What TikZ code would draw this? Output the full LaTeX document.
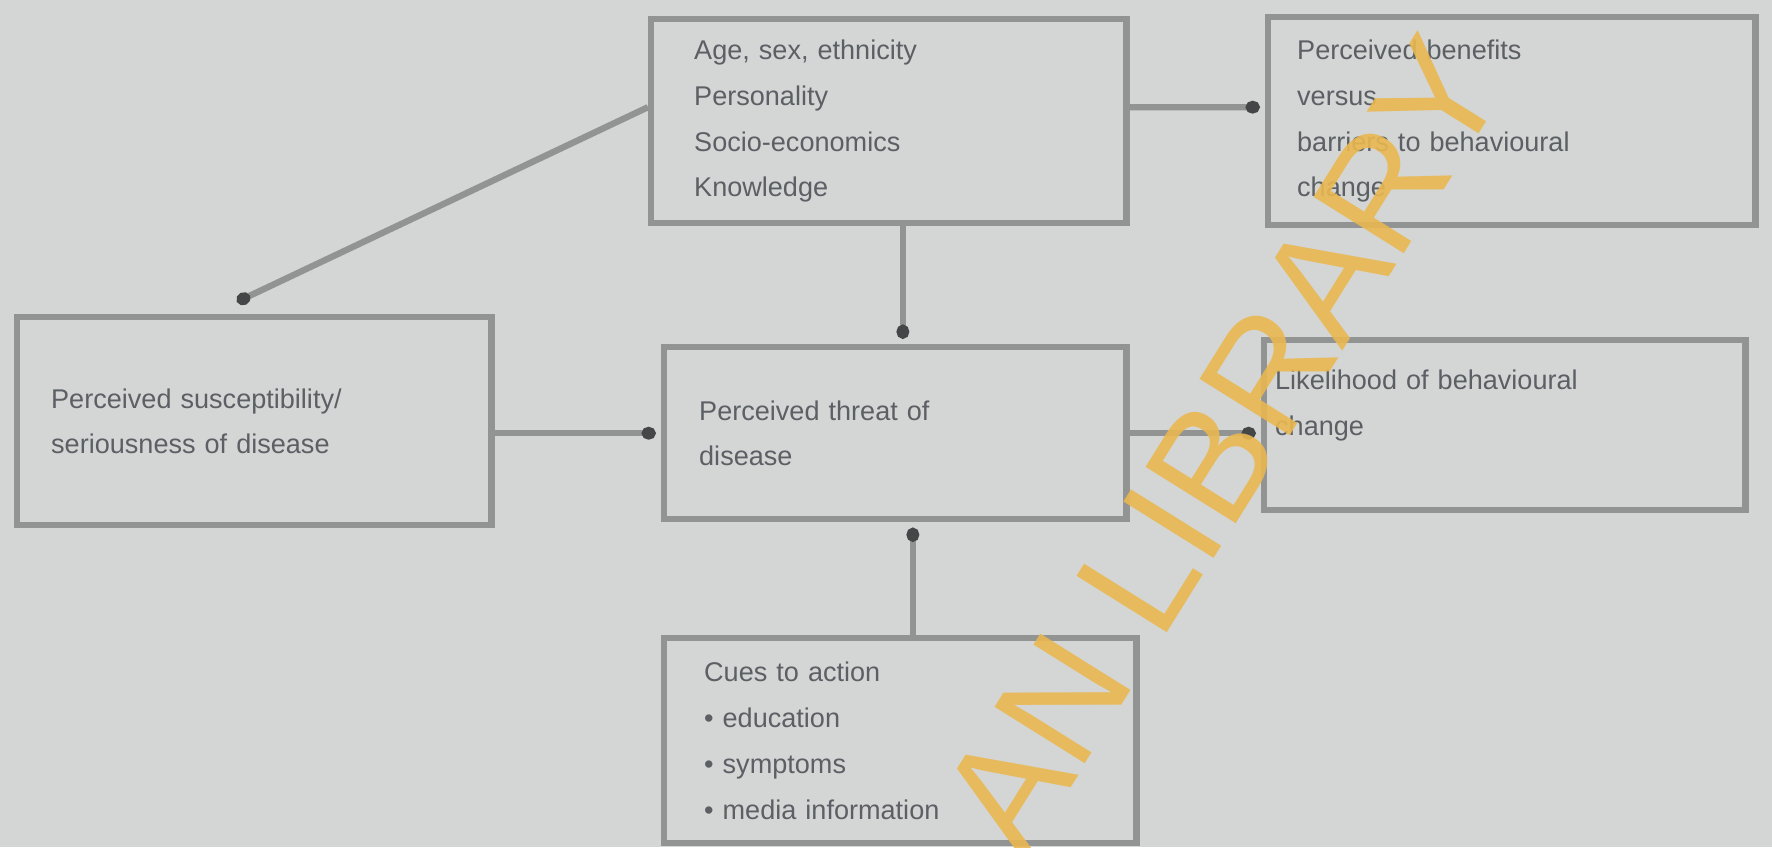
\documentclass[tikz,border=0pt]{standalone}
\usepackage{fontspec}
\setmainfont{Liberation Sans}
\usetikzlibrary{arrows.meta}
\definecolor{paper}{RGB}{212,214,214}
\definecolor{frame}{RGB}{146,148,148}
\definecolor{ink}{RGB}{92,96,100}
\definecolor{dotink}{RGB}{68,70,72}
\definecolor{stamp}{RGB}{233,184,80}
\begin{document}
\begin{tikzpicture}[x=0.01cm,y=-0.01cm,
  box/.style={draw=frame,line width=1.8pt,fill=paper,text=ink,align=left,
    anchor=north west,inner ysep=0pt,font=\fontsize{7.7}{13}\selectfont},
  link/.style={draw=frame,line width=1.8pt,
    -{Circle[length=4pt,width=3.6pt,sep=1.5pt,color=dotink]}}]
\fill[paper] (0,0) rectangle (1772,847);
\useasboundingbox (0,0) rectangle (1772,847);
% the six boxes
\node[box,text width=3.89cm,inner xsep=0.43cm,minimum height=2.04cm] (tc) at (648,16)
  {Age, sex, ethnicity\\Personality\\Socio-economics\\Knowledge};
\node[box,text width=4.29cm,inner xsep=0.29cm,minimum height=2.08cm] (tr) at (1265,14)
  {Perceived benefits\\versus\\barriers to behavioural\\change};
\node[box,text width=4.06cm,inner xsep=0.34cm,minimum height=2.08cm] (sus) at (14,314)
  {Perceived susceptibility/\\seriousness of disease};
\node[box,text width=3.92cm,inner xsep=0.35cm,minimum height=1.72cm] (thr) at (661,344)
  {Perceived threat of\\disease};
\node[box,text width=4.59cm,inner xsep=0.11cm,minimum height=1.70cm] (lik) at (1261,337)
  {Likelihood of behavioural\\change\\\mbox{}};
\node[box,text width=3.92cm,inner xsep=0.40cm,minimum height=2.05cm] (cue) at (661,635)
  {Cues to action\\\textbullet\ education\\\textbullet\ symptoms\\\textbullet\ media information};
% links
\draw[link] ([yshift=4pt]tc.west) -- ([xshift=-0.22cm,yshift=0.1cm]sus.north);
\draw[link] ([yshift=4pt]tc.east) -- ([yshift=4pt]tr.west);
\draw[link] ([xshift=4pt]tc.south) -- ([xshift=4pt]tc.south |- thr.north);
\draw[link] (sus.east |- thr.west) -- (thr.west);
\draw[link] (thr.east) -- (thr.east -| lik.west);
\draw[link] ([xshift=5pt]thr.south |- cue.north) -- ([xshift=5pt]thr.south);
% stamp
\node[text=stamp,opacity=0.9,rotate=58,font=\fontsize{44}{44}\selectfont] (mark) at (1222,445) {AN LIBRARY};
\end{tikzpicture}
\end{document}
